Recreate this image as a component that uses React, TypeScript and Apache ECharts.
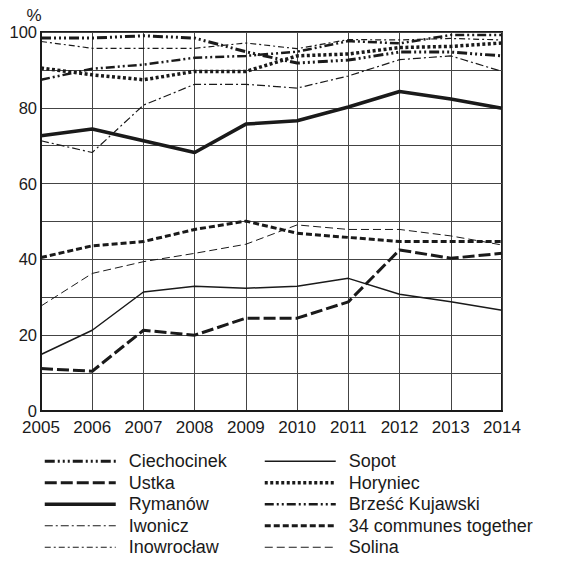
import React, { useEffect, useRef } from "react";
import * as echarts from "echarts";

const years = ["2005", "2006", "2007", "2008", "2009", "2010", "2011", "2012", "2013", "2014"];

const ciechocinek = [98.4, 98.4, 99.0, 98.4, 94.8, 91.8, 92.6, 94.7, 94.7, 93.7];
const ustka = [11.2, 10.5, 21.3, 20.0, 24.5, 24.5, 28.8, 42.5, 40.3, 41.6];
const rymanow = [72.6, 74.4, 71.3, 68.2, 75.7, 76.6, 80.2, 84.3, 82.3, 79.9];
const iwonicz = [71.3, 68.2, 80.7, 86.2, 86.2, 85.2, 88.4, 92.7, 93.7, 89.6];
const inowroclaw = [97.5, 95.7, 95.7, 95.7, 97.1, 95.6, 98.0, 97.9, 98.3, 97.9];
const sopot = [14.9, 21.3, 31.4, 32.9, 32.4, 32.9, 35.0, 30.8, 28.8, 26.6];
const horyniec = [90.5, 88.7, 87.4, 89.6, 89.6, 93.7, 94.2, 95.9, 96.2, 97.1];
const brzesc = [87.4, 90.3, 91.4, 93.2, 93.7, 94.8, 97.6, 97.0, 99.2, 99.2];
const communes34 = [40.5, 43.6, 44.7, 47.9, 50.1, 46.9, 45.8, 44.7, 44.7, 44.7];
const solina = [27.7, 36.3, 39.4, 41.6, 44.0, 49.1, 47.9, 47.9, 46.2, 43.8];

const leftLegend = ["Ciechocinek", "Ustka", "Rymanów", "Iwonicz", "Inowrocław"];
const rightLegend = ["Sopot", "Horyniec", "Brześć Kujawski", "34 communes together", "Solina"];

const INK = "#1a1a1a";

const styles: Record<string, { width: number; type: any }> = {
  "Ciechocinek": { width: 3, type: [10, 3, 2, 3, 2, 3, 2, 3] },
  "Ustka": { width: 3, type: [12, 4] },
  "Rymanów": { width: 3.5, type: "solid" },
  "Iwonicz": { width: 1.2, type: [8, 3, 2, 3] },
  "Inowrocław": { width: 1.2, type: [6, 3, 2, 3] },
  "Sopot": { width: 1.5, type: "solid" },
  "Horyniec": { width: 3.5, type: [3, 2.5] },
  "Brześć Kujawski": { width: 2.5, type: [9, 3, 2, 3, 2, 3] },
  "34 communes together": { width: 3, type: [6, 3] },
  "Solina": { width: 1, type: [8, 4] },
};

function mk(name: string, data: number[]) {
  const s = styles[name];
  return {
    name,
    type: "line",
    data,
    symbol: "none",
    smooth: false,
    lineStyle: { color: INK, width: s.width, type: s.type, cap: "butt" },
    itemStyle: { color: INK },
  };
}

function legendItems(names: string[]) {
  return names.map((n) => ({
    name: n,
    lineStyle: { color: INK, width: styles[n].width, type: styles[n].type, cap: "butt" },
  }));
}

export default function App() {
  const ref = useRef<HTMLDivElement>(null);
  useEffect(() => {
    document.body.style.margin = "0";
    const chart = echarts.init(ref.current!, null, { renderer: "svg" });
    const font = "Arial, 'Liberation Sans', sans-serif";
    const legendBase = {
      orient: "vertical",
      top: 452,
      height: 115,
      itemWidth: 71,
      itemHeight: 10,
      itemGap: 3,
      padding: 0,
      itemStyle: { opacity: 0 },
      textStyle: { fontSize: 18, lineHeight: 18.5, color: INK, fontFamily: font, padding: [0, 0, 0, 8] },
      selectedMode: false,
    };
    chart.setOption({
      animation: false,
      textStyle: { fontFamily: font },
      grid: {
        left: 41,
        right: 61,
        top: 32,
        bottom: 151,
        show: true,
        borderColor: INK,
        borderWidth: 2,
      },
      legend: [
        { ...legendBase, left: 43, data: legendItems(leftLegend) },
        { ...legendBase, left: 263, data: legendItems(rightLegend) },
      ],
      xAxis: {
        type: "category",
        data: years,
        boundaryGap: false,
        axisLine: { lineStyle: { color: INK, width: 2 } },
        axisTick: { show: false },
        axisLabel: { fontSize: 17, lineHeight: 17, color: INK, margin: 8, fontFamily: font, interval: 0, hideOverlap: false },
        splitLine: { show: true, interval: 0, lineStyle: { color: "#444", width: 1 } },
      },
      yAxis: {
        type: "value",
        min: 0,
        max: 100,
        interval: 10,
        name: "%",
        nameGap: 7,
        nameTextStyle: { fontSize: 17, color: INK, padding: [0, 14, 0, 0], fontFamily: font },
        axisLine: { show: true, lineStyle: { color: INK, width: 2 } },
        axisTick: { show: false },
        axisLabel: {
          fontSize: 16.5,
          lineHeight: 15,
          verticalAlign: "middle",
          color: INK,
          margin: 4,
          fontFamily: font,
          formatter: (v: number) => (v % 20 === 0 ? String(v) : ""),
        },
        splitLine: { show: true, lineStyle: { color: "#444", width: 1 } },
      },
      series: [
        mk("Ciechocinek", ciechocinek),
        mk("Ustka", ustka),
        mk("Rymanów", rymanow),
        mk("Iwonicz", iwonicz),
        mk("Inowrocław", inowroclaw),
        mk("Sopot", sopot),
        mk("Horyniec", horyniec),
        mk("Brześć Kujawski", brzesc),
        mk("34 communes together", communes34),
        mk("Solina", solina),
      ],
    });
    return () => chart.dispose();
  }, []);
  return <div ref={ref} style={{ width: 563, height: 562 }} />;
}
